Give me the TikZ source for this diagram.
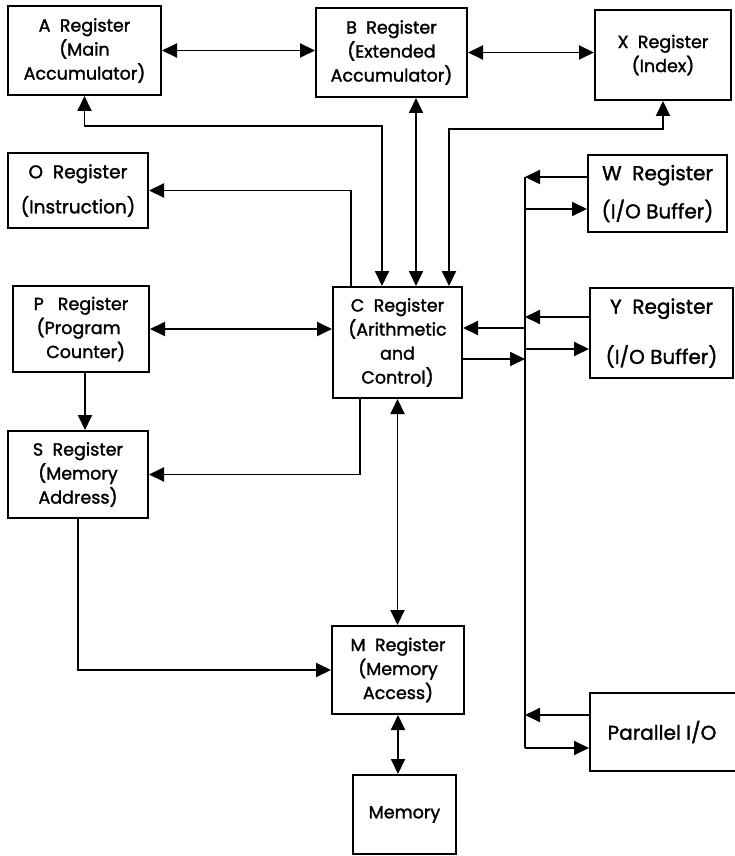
\documentclass[tikz,border=0pt]{standalone}
\usepackage{fontspec}
\setmainfont{Poppins}[FakeBold=1.6]
\usepackage{tikz}
\usetikzlibrary{arrows.meta}

\tikzset{
    reg/.style={draw, line width=2pt, align=center, inner sep=0pt,
        font=\fontsize{17.5}{24}\selectfont},
    bigreg/.style={reg, font=\fontsize{20}{24}\selectfont},
    wire/.style={line width=1.9pt},
    tip/.tip={Triangle[length=15pt,width=14pt]}
}

\begin{document}
\begin{tikzpicture}[x=1pt, y=-1pt]
    \useasboundingbox (0,0) rectangle (734,856);
    % Registers, placed at their centres
    \node[reg, minimum width=153pt, minimum height=89pt] (A) at (84.5,50.5)
        {A\ \ Register\\(Main\\Accumulator)};
    \node[reg, minimum width=151pt, minimum height=89pt] (B) at (391.5,52.5)
        {B\ \ Register\\(Extended\\Accumulator)};
    \node[reg, minimum width=136pt, minimum height=90pt] (X) at (663,55)
        {X\ \ Register\\(Index)};
    \node[reg, minimum width=140pt, minimum height=75pt,
        font=\fontsize{18.5}{24}\selectfont] (O) at (78,190.5)
        {O\ \ Register\\[11pt](Instruction)};
    \node[bigreg, minimum width=139pt, minimum height=77pt] (W) at (657.5,193.5)
        {W\ \ Register\\[13pt](I/O Buffer)};
    \node[reg, minimum width=136pt, minimum height=86pt] (P) at (81,329)
        {P\ \ \ Register\\(Program\ \ \ \\\ \ Counter)};
    \node[reg, minimum width=129pt, minimum height=111pt] (C) at (397.5,342.5)
        {C\ \ Register\\(Arithmetic\\and\\Control)};
    \node[bigreg, minimum width=143pt, minimum height=90pt] (Y) at (661.5,333)
        {Y\ \ Register\\[25pt](I/O Buffer)};
    \node[reg, minimum width=140pt, minimum height=87pt] (S) at (78,474.5)
        {S\ \ Register\\(Memory\\Address)};
    \node[reg, minimum width=132pt, minimum height=88pt] (M) at (398,670)
        {M\ \ Register\\(Memory\\Access)};
    \node[reg, minimum width=103pt, minimum height=79pt] (Mem) at (404.5,814.5)
        {Memory};
    \node[bigreg, minimum width=152pt, minimum height=78pt] (PIO) at (666,732)
        {\hspace{-8pt}Parallel I/O};

    % Input/output bus
    \coordinate (bt) at (525,177);
    \coordinate (bb) at (525,748);
    \draw[wire] (bt) -- (bb);

    % Top row
    \draw[wire, tip-tip] (A.east) -- (A.east -| B.west);
    \draw[wire, tip-tip] (B.east) -- (B.east -| X.west);
    \draw[wire, tip-tip] (A.south) |- (0,126 -| 382,0) -- ([xshift=-15.5pt]C.north);
    \draw[wire, tip-tip] ([xshift=24.5pt]B.south) -- ([xshift=24.5pt]B.south |- C.north);
    \draw[wire, tip-tip] (X.south) |- (0,129 -| 449,0) -- ([xshift=51.5pt]C.north);
    \draw[wire, -tip] ([xshift=-46.5pt]C.north) |- (O.east);

    % Left side
    \draw[wire, tip-tip] (P.east) -- (P.east -| C.west);
    \draw[wire, -tip] ([xshift=4pt]P.south) -- ([xshift=4pt]P.south |- S.north);
    \draw[wire, -tip] ([xshift=-37.5pt]C.south) |- (S.east);
    \draw[wire, -tip] (S.south) |- (M.west);
    \draw[wire, tip-tip] (C.south) -- (C.south |- M.north);
    \draw[wire, tip-tip] (M.south) -- (M.south |- Mem.north);

    % Bus connections
    \draw[wire, -tip] (W.west |- bt) -- (bt);
    \draw[wire, -tip] (bt |- 0,209) -- (W.west |- 0,209);
    \draw[wire, -tip] (Y.west |- 0,317) -- (bt |- 0,317);
    \draw[wire, -tip] (bt |- 0,349) -- (Y.west |- 0,349);
    \draw[wire, -tip] (bt |- 0,328) -- (C.east |- 0,328);
    \draw[wire, -tip] (C.east |- 0,359) -- (bt |- 0,359);
    \draw[wire, -tip] (PIO.west |- 0,715) -- (bt |- 0,715);
    \draw[wire, -tip] (bb) -- (PIO.west |- bb);
\end{tikzpicture}
\end{document}
